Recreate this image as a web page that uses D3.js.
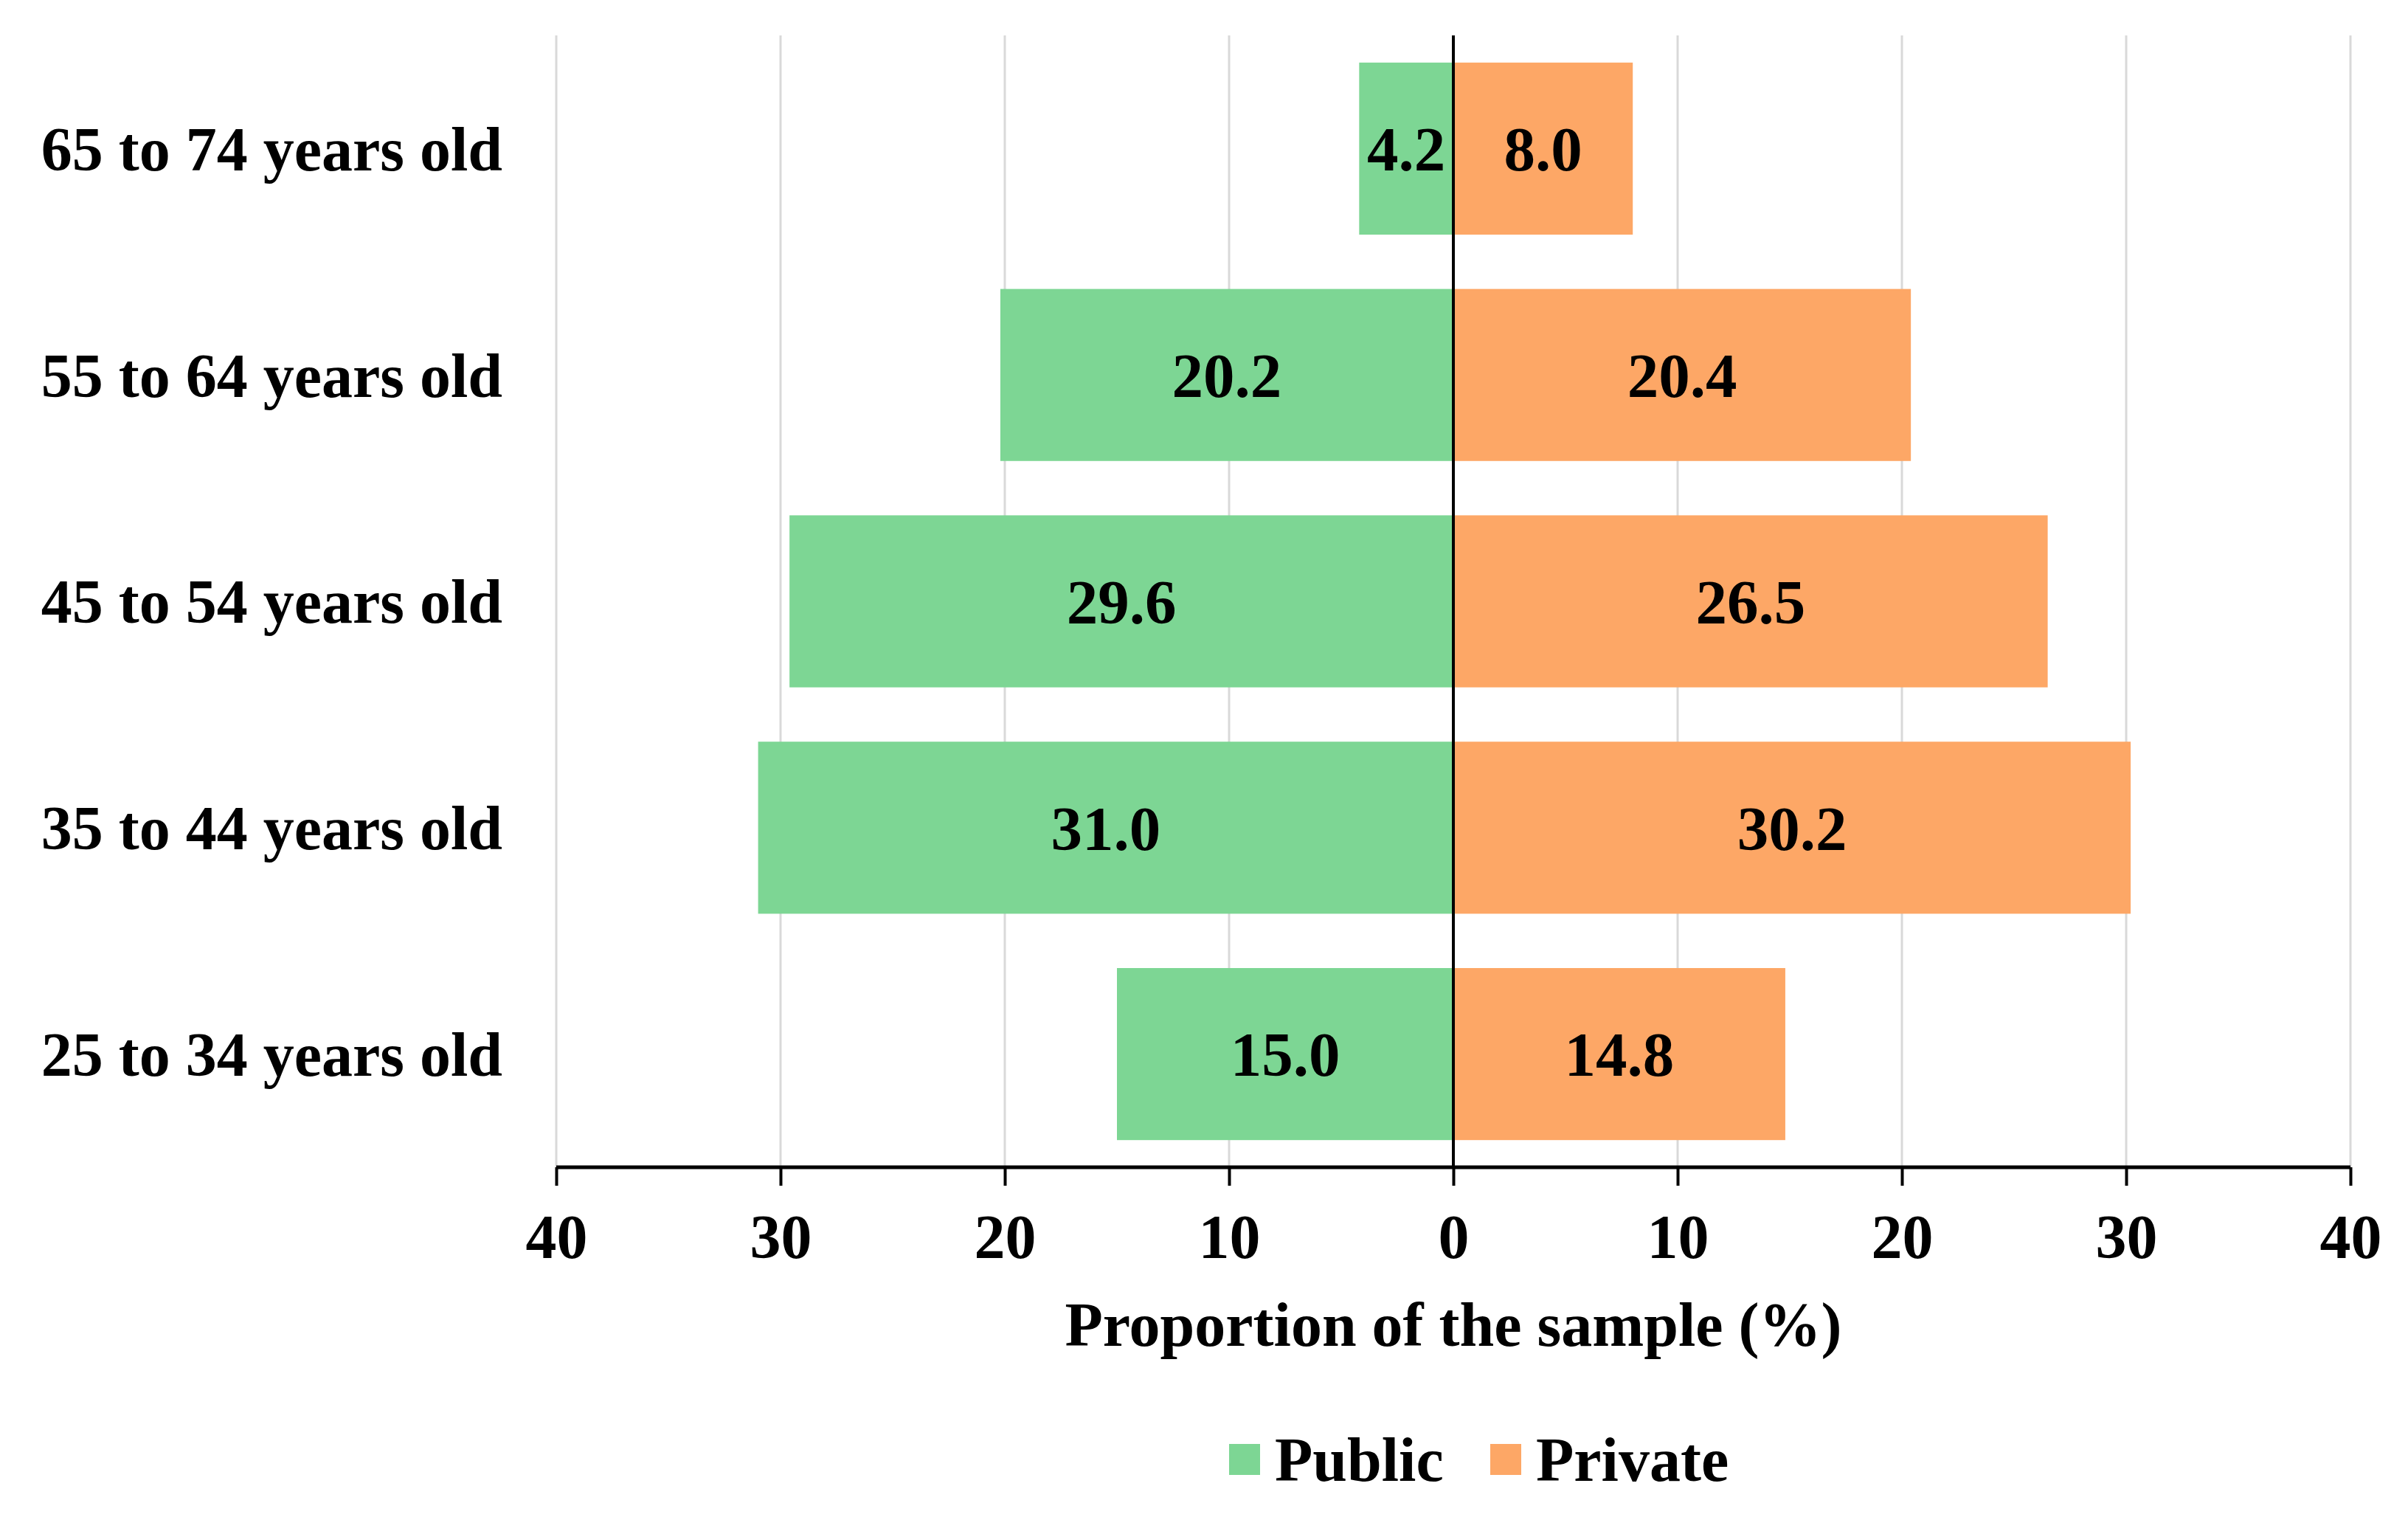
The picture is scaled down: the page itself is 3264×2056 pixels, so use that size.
<!DOCTYPE html>
<html>
<head>
<meta charset="utf-8">
<script src="https://cdn.jsdelivr.net/npm/d3@7"></script>
<style>
  body { margin: 0; background: #fff; }
  text { font-family: "Liberation Serif", "Times New Roman", serif; font-weight: bold; }
</style>
</head>
<body>
<div id="chart"></div>
<script>
// Age groups, top to bottom
const categories = ['65 to 74 years old', '55 to 64 years old', '45 to 54 years old', '35 to 44 years old', '25 to 34 years old'];
const publicValues = [4.2, 20.2, 29.6, 31.0, 15.0];
const privateValues = [8.0, 20.4, 26.5, 30.2, 14.8];
const tickValues = [-40, -30, -20, -10, 0, 10, 20, 30, 40];
const seriesNames = ['Public', 'Private'];

const width = 3264, height = 2056;
const colors = { Public: '#7dd694', Private: '#fda766' };

const svg = d3.select("#chart")
    .append("svg")
    .attr("width", width)
    .attr("height", height);

const xScale = d3.scaleLinear()
    .domain([-40, 40])
    .range([754, 3186]);

const yScale = d3.scaleBand()
    .domain(categories)
    .range([48, 1582])
    .paddingInner(0.24)
    .paddingOuter(0.12);

// gridlines
svg.append("g")
    .selectAll("line")
    .data(tickValues)
    .enter()
    .append("line")
    .attr("x1", d => xScale(d))
    .attr("x2", d => xScale(d))
    .attr("y1", 48)
    .attr("y2", 1582)
    .attr("stroke", "#d9d9d9")
    .attr("stroke-width", 3);

// bars
svg.append("g")
    .selectAll("rect")
    .data(publicValues)
    .enter()
    .append("rect")
    .attr("x", d => xScale(-d))
    .attr("y", (d, i) => yScale(categories[i]))
    .attr("width", d => xScale(0) - xScale(-d))
    .attr("height", yScale.bandwidth())
    .attr("fill", colors.Public);

svg.append("g")
    .selectAll("rect")
    .data(privateValues)
    .enter()
    .append("rect")
    .attr("x", xScale(0))
    .attr("y", (d, i) => yScale(categories[i]))
    .attr("width", d => xScale(d) - xScale(0))
    .attr("height", yScale.bandwidth())
    .attr("fill", colors.Private);

// value labels
svg.append("g")
    .selectAll("text")
    .data(publicValues)
    .enter()
    .append("text")
    .attr("x", d => (xScale(-d) + xScale(0)) / 2)
    .attr("y", (d, i) => yScale(categories[i]) + yScale.bandwidth() / 2)
    .attr("dy", "0.35em")
    .attr("text-anchor", "middle")
    .attr("font-size", 85)
    .text(d => d.toFixed(1));

svg.append("g")
    .selectAll("text")
    .data(privateValues)
    .enter()
    .append("text")
    .attr("x", d => (xScale(d) + xScale(0)) / 2)
    .attr("y", (d, i) => yScale(categories[i]) + yScale.bandwidth() / 2)
    .attr("dy", "0.35em")
    .attr("text-anchor", "middle")
    .attr("font-size", 85)
    .text(d => d.toFixed(1));

// zero line
svg.append("line")
    .attr("x1", xScale(0))
    .attr("x2", xScale(0))
    .attr("y1", 48)
    .attr("y2", 1582)
    .attr("stroke", "#000")
    .attr("stroke-width", 4);

// x axis
const xAxis = svg.append("g")
    .attr("transform", "translate(0,1582)")
    .call(d3.axisBottom(xScale)
        .tickValues(tickValues)
        .tickFormat(d => Math.abs(d))
        .tickSize(25)
        .tickPadding(38));

xAxis.select(".domain")
    .attr("stroke", "#000")
    .attr("stroke-width", 5)
    .attr("d", `M${xScale(-40)},0H${xScale(40)}`);

xAxis.selectAll(".tick line")
    .attr("stroke", "#000")
    .attr("stroke-width", 4);

xAxis.selectAll(".tick text")
    .attr("font-family", "Liberation Serif, serif")
    .attr("font-weight", "bold")
    .attr("font-size", 84)
    .attr("fill", "#000");

// category labels
svg.append("g")
    .selectAll("text")
    .data(categories)
    .enter()
    .append("text")
    .attr("x", 681)
    .attr("y", d => yScale(d) + yScale.bandwidth() / 2)
    .attr("dy", "0.35em")
    .attr("text-anchor", "end")
    .attr("font-size", 84)
    .text(d => d);

// axis title
svg.append("text")
    .attr("x", xScale(0))
    .attr("y", 1824)
    .attr("text-anchor", "middle")
    .attr("font-size", 84)
    .text("Proportion of the sample (%)");

// legend
const legendX = [1666, 2020];
const legend = svg.append("g")
    .selectAll("g")
    .data(seriesNames)
    .enter()
    .append("g")
    .attr("transform", (d, i) => `translate(${legendX[i]},1978)`);

legend.append("rect")
    .attr("x", 0)
    .attr("y", -21)
    .attr("width", 42)
    .attr("height", 42)
    .attr("fill", d => colors[d]);

legend.append("text")
    .attr("x", 62)
    .attr("y", 0)
    .attr("dy", "0.35em")
    .attr("font-size", 84)
    .text(d => d);
</script>
</body>
</html>
